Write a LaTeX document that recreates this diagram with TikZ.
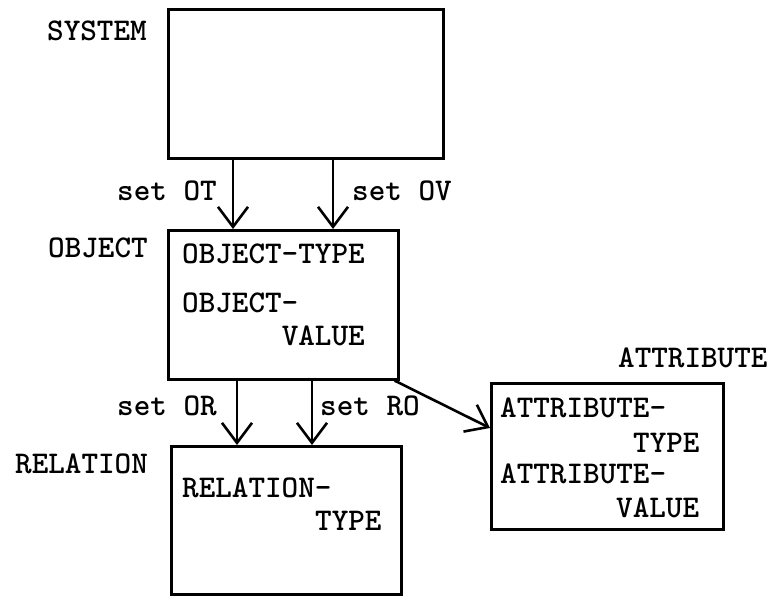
\documentclass[tikz,border=0pt]{standalone}
\usetikzlibrary{arrows.meta}
\begin{document}
\begin{tikzpicture}[x=1pt,y=-1pt,
  box/.style={draw,line width=2.6pt,anchor=north west,inner sep=0pt},
  lbl/.style={inner sep=0pt,anchor=base west,font=\fontsize{31.6}{36}\ttfamily\bfseries},
  arr/.style={line width=2.6pt,-{Straight Barb[length=20pt,width=30pt,line width=2.6pt]}}]
\useasboundingbox (0,0) rectangle (773,595);
% boxes
\node[box,minimum width=275pt,minimum height=149pt] (sys) at (167,8) {};
\node[box,minimum width=230pt,minimum height=149pt] (obj) at (167,229) {};
\node[box,minimum width=230pt,minimum height=148pt] (rel) at (170,445) {};
\node[box,minimum width=232pt,minimum height=146pt] (att) at (490,382) {};
% outside labels
\node[lbl] (tsys) at (47,40) {SYSTEM};
\node[lbl] (tobj) at (48,257) {OBJECT};
\node[lbl] (trel) at (15,473) {RELATION};
\node[lbl] (tatt) at (618,367) {ATTRIBUTE};
% box contents
\node[lbl] (ot) at (182,263) {OBJECT-TYPE};
\node[lbl] (ov1) at (182,312) {OBJECT-};
\node[lbl] (ov2) at (281.6,345) {VALUE};
\node[lbl] (rt1) at (182,497) {RELATION-};
\node[lbl] (rt2) at (315,530) {TYPE};
\node[lbl] (at1) at (500,417) {ATTRIBUTE-};
\node[lbl] (at2) at (633,452) {TYPE};
\node[lbl] (av1) at (500,483) {ATTRIBUTE-};
\node[lbl] (av2) at (616,517) {VALUE};
% arrow labels
\node[lbl] (sot) at (117,200) {set OT};
\node[lbl] (sov) at (352,200) {set OV};
\node[lbl] (sor) at (117,415) {set OR};
\node[lbl] (sro) at (320,415) {set RO};
% arrows
\draw[arr] ([xshift=66pt]sys.south west) -- ([xshift=66pt]obj.north west);
\draw[arr] ([xshift=166pt]sys.south west) -- ([xshift=166pt]obj.north west);
\draw[arr] ([xshift=70pt]obj.south west) -- ([xshift=67pt]rel.north west);
\draw[arr] ([xshift=145pt]obj.south west) -- ([xshift=142pt]rel.north west);
\draw[arr] ([xshift=-5pt]obj.south east) -- ([yshift=-46pt]att.north west);
\end{tikzpicture}
\end{document}
